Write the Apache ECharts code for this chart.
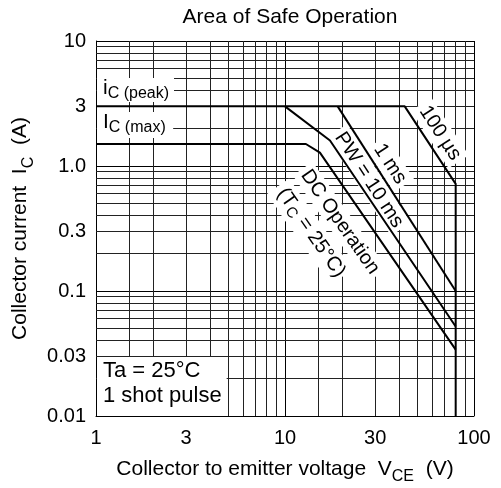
<!DOCTYPE html>
<html>
<head>
<meta charset="utf-8">
<script src="https://cdn.jsdelivr.net/npm/echarts@6/dist/echarts.min.js"></script>
<style>
  html, body { margin: 0; padding: 0; background: #fff; }
  #chart { width: 501px; height: 488px; }
</style>
</head>
<body>
<div id="chart"></div>
<script>
const FONT = 'Liberation Sans, Arial, Helvetica, sans-serif';

// tick labels
const xTickValues = [1, 3, 10, 30, 100];
const xTickLabels = ['1', '3', '10', '30', '100'];
const yTickValues = [0.01, 0.03, 0.1, 0.3, 1, 3, 10];
const yTickLabels = ['0.01', '0.03', '0.1', '0.3', '1.0', '3', '10'];

// minor grid lines (decades come from the axis split lines)
const xGridValues = [1.5, 2, 3, 4, 5, 6, 7, 8, 9, 15, 20, 30, 40, 50, 60, 70, 80, 90];
const yGridValues = [0.02, 0.03, 0.04, 0.05, 0.06, 0.07, 0.08, 0.09,
  0.2, 0.3, 0.4, 0.5, 0.6, 0.7, 0.8, 0.9, 2, 3, 4, 5, 6, 7, 8, 9];

// SOA boundaries, V_CE (V) / I_C (A)
const pulse100usV = [1, 43, 80, 80];
const pulse100usI = [3, 3, 0.72, 0.01];
const pulse1msV = [19, 80];
const pulse1msI = [3, 0.1];
const pulse10msV = [10, 17.3, 80];
const pulse10msI = [3, 1.6, 0.052];
const dcV = [1, 12.9, 15.3, 80];
const dcI = [1.5, 1.5, 1.28, 0.034];

function pairs(xs, ys) {
  return xs.map((x, i) => [x, ys[i]]);
}

function tickLabel(values, labels) {
  return (v) => {
    const i = values.findIndex(t => Math.abs(Math.log10(t) - Math.log10(v)) < 1e-6);
    return i >= 0 ? labels[i] : '';
  };
}

function curve(name, xs, ys) {
  return {
    name: name,
    type: 'line',
    data: pairs(xs, ys),
    showSymbol: false,
    symbol: 'none',
    lineStyle: { color: '#000', width: 2 },
    z: 3,
    silent: true,
    animation: false,
  };
}

const sub = (size) => ({ fontSize: size, fontFamily: FONT, color: '#000', lineHeight: size, verticalAlign: 'bottom' });
const main = (size, lh) => ({ fontSize: size, fontFamily: FONT, color: '#000', lineHeight: lh, verticalAlign: 'top' });

function plainText(text, x, y, size, align) {
  return {
    type: 'text',
    x: x,
    y: y,
    z: 2,
    silent: true,
    style: {
      text: text,
      fontSize: size,
      fontFamily: FONT,
      fill: '#000',
      align: align,
      verticalAlign: 'middle',
      backgroundColor: '#fff',
      padding: [2, 2],
    },
  };
}

function rotatedText(text, x, y, deg) {
  const el = plainText(text, x, y, 20, 'center');
  el.rotation = -deg * Math.PI / 180;
  el.style.padding = [2, 4];
  return el;
}

const chart = echarts.init(document.getElementById('chart'));

const option = {
  animation: false,
  backgroundColor: '#fff',
  textStyle: { fontFamily: FONT, color: '#000' },
  title: {
    text: 'Area of Safe Operation',
    left: 285,
    top: 2,
    textAlign: 'center',
    textStyle: { fontSize: 21, fontWeight: 'normal', fontFamily: FONT, color: '#000' },
  },
  grid: { left: 96, right: 27, top: 41, bottom: 72, outerBoundsMode: 'none' },
  xAxis: {
    type: 'log',
    logBase: 10,
    min: 1,
    max: 100,
    name: '{m|Collector to emitter voltage  V}{s|CE}{m|  (V)}',
    nameLocation: 'middle',
    nameGap: 43,
    nameTextStyle: { rich: { m: main(21, 26), s: sub(16) } },
    axisLine: { show: true, lineStyle: { color: '#000', width: 1 } },
    axisTick: { show: false },
    axisLabel: {
      customValues: xTickValues,
      formatter: tickLabel(xTickValues, xTickLabels),
      fontSize: 20,
      fontFamily: FONT,
      color: '#000',
      margin: 12,
    },
    splitLine: { show: true, lineStyle: { color: '#000', width: 1 } },
  },
  yAxis: {
    type: 'log',
    logBase: 10,
    min: 0.01,
    max: 10,
    name: '{m|Collector current  I}{s|C}{m|  (A)}',
    nameLocation: 'middle',
    nameRotate: 90,
    nameGap: 59,
    nameTextStyle: { rich: { m: main(21, 26), s: sub(16) } },
    axisLine: { show: true, lineStyle: { color: '#000', width: 1 } },
    axisTick: { show: false },
    axisLabel: {
      customValues: yTickValues,
      formatter: tickLabel(yTickValues, yTickLabels),
      fontSize: 20,
      fontFamily: FONT,
      color: '#000',
      margin: 10,
    },
    splitLine: { show: true, lineStyle: { color: '#000', width: 1 } },
  },
  series: [
    {
      name: 'grid',
      type: 'line',
      data: [[1, 10]],
      showSymbol: false,
      symbol: 'none',
      lineStyle: { width: 0 },
      silent: true,
      z: 1,
      markLine: {
        silent: true,
        symbol: ['none', 'none'],
        z: 1,
        animation: false,
        label: { show: false },
        emphasis: { disabled: true },
        lineStyle: { color: '#222', width: 1, type: 'solid' },
        data: xGridValues.map(v => ({ xAxis: v })).concat(yGridValues.map(v => ({ yAxis: v }))),
      },
    },
    curve('100 µs', pulse100usV, pulse100usI),
    curve('1 ms', pulse1msV, pulse1msI),
    curve('10 ms', pulse10msV, pulse10msI),
    curve('DC', dcV, dcI),
  ],
  graphic: {
    elements: [
      {
        type: 'text', x: 97, y: 78, z: 2, silent: true,
        style: {
          text: '{m|i}{s|C (peak)}',
          backgroundColor: '#fff',
          padding: [0, 5, 0, 6],
          rich: { m: main(21, 24), s: sub(16) },
        },
      },
      {
        type: 'text', x: 97, y: 112, z: 2, silent: true,
        style: {
          text: '{m|I}{s|C (max) }',
          backgroundColor: '#fff',
          padding: [0, 3, 2, 6],
          rich: { m: main(21, 24), s: sub(16) },
        },
      },
      {
        type: 'text', x: 97, y: 357, z: 2, silent: true,
        style: {
          text: 'Ta = 25°C\n1 shot pulse',
          fontSize: 22,
          fontFamily: FONT,
          fill: '#000',
          lineHeight: 25,
          backgroundColor: '#fff',
          padding: [1, 5, 8, 6],
        },
      },
      rotatedText('100 µs', 440, 133, 57),
      rotatedText('1 ms', 390, 164, 57),
      rotatedText('PW = 10 ms', 369, 180, 57),
      rotatedText('DC Operation', 340, 222, 55),
      {
        type: 'group',
        x: 310,
        y: 231,
        rotation: -55 * Math.PI / 180,
        children: [
          {
            type: 'rect', z: 2, silent: true,
            shape: { x: -55, y: -13, width: 110, height: 27 },
            style: { fill: '#fff' },
          },
          plainText('(T', -52, 0, 20, 'left'),
          plainText(' = 25°C)', -22, 0, 20, 'left'),
          plainText('C', -33, 5, 15, 'left'),
        ],
      },
    ],
  },
};

chart.setOption(option);
</script>
</body>
</html>
